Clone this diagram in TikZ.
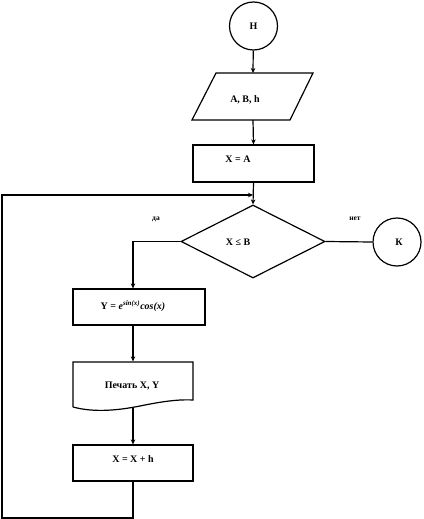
\documentclass[tikz,border=0pt]{standalone}
\usepackage{fontspec}
\setmainfont{Liberation Serif}
\usetikzlibrary{arrows.meta,shapes.geometric}
\begin{document}
\begin{tikzpicture}[x=1pt,y=-1pt,line width=1.2pt,
  font=\bfseries\fontsize{10}{12}\selectfont,
  arr/.style={-{Stealth[length=5pt,width=4.5pt]}},
  box/.style={draw,rectangle,inner sep=0pt},
  term/.style={draw,circle,minimum size=48pt,inner sep=0pt},
  txt/.style={inner sep=0pt},
  small/.style={inner sep=0pt,font=\bfseries\fontsize{7.5}{9}\selectfont}]
\useasboundingbox (0,0) rectangle (423,519);
% start
\node[term] (start) at (253.5,26) {Н};
% input parallelogram
\draw (216,73) -- (313,73) -- (290,120) -- (192,120) -- cycle;
\coordinate (inT) at (253,73);
\coordinate (inB) at (253,120);
\node[txt] (inp) at (245,100) {А, В, h};
% X = A
\node[box,minimum width=121pt,minimum height=37pt] (xa) at (253.5,163.5) {};
\node[txt] (xat) at (238,159) {Х = А};
% decision
\node[draw,diamond,minimum width=144pt,minimum height=73pt,inner sep=0pt] (dec) at (253,241.5) {};
\node[txt] (dect) at (238,242) {Х ≤ В};
\node[small] (yes) at (156,219) {да};
\node[small] (no) at (355,219) {нет};
% end
\node[term] (fin) at (397,242) {};
\node[txt] (fint) at (399,242) {К};
% Y formula
\node[box,minimum width=132pt,minimum height=36pt] (ry) at (139,307) {};
\node[txt] (ryt) at (133,306) {Y = \textit{e}\textsuperscript{\textit{sin(x)}}\textit{cos(x)}};
% document
\node[minimum width=120pt,minimum height=38pt,inner sep=0pt] (doc) at (133,381) {};
\draw (73,407) -- (73,362) -- (193,362) -- (193,400)
  .. controls (175,399) and (155,403) .. (140,406)
  .. controls (120,410) and (95,413) .. (73,407);
\coordinate (docB) at (133,407.5);
\node[txt] (doct) at (132,386) {Печать  Х, Y};
% X = X + h
\node[box,minimum width=120pt,minimum height=36pt] (xh) at (133,463) {};
\node[txt] (xht) at (133,459.5) {Х = Х + h};
% loop coordinates
\coordinate (l1) at (133,518);
\coordinate (l2) at (2,518);
\coordinate (l3) at (2,195);
\coordinate (join) at (253,195);
% connectors
\draw[arr] (start) -- (inT);
\draw[arr] (inB) -- (xa.north);
\draw[arr] (xa.south) -- (dec.north);
\draw (dec.east) -- (fin.west);
\draw[arr] (dec.west) -| (ry.north -| doc.north);
\draw[arr] (ry.south -| doc.north) -- (doc.north);
\draw[arr] (docB) -- (xh.north);
\draw[arr] (xh.south) -- (l1) -- (l2) -- (l3) -- (join);
\end{tikzpicture}
\end{document}
